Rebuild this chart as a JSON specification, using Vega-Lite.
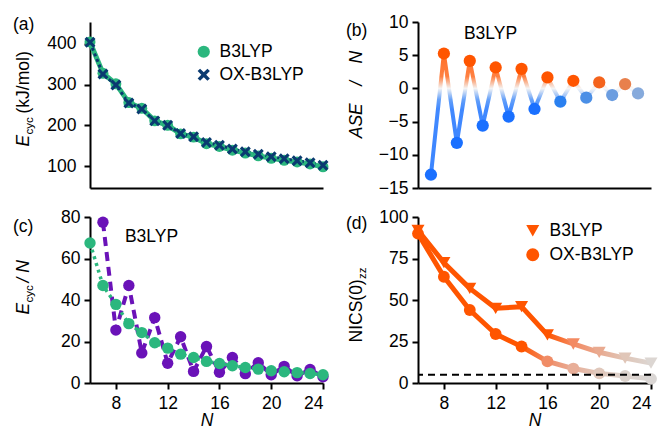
{
  "$schema": "https://vega.github.io/schema/vega-lite/v6.json",
  "padding": {"left": 13, "top": 13, "right": 0, "bottom": 0},
  "columns": 2,
  "spacing": {"row": 29, "column": 95},
  "bounds": "flush",
  "resolve": {"scale": {"shape": "independent", "color": "independent"}, "legend": {"shape": "independent", "color": "independent"}},
  "config": {
    "view": {"stroke": null},
    "font": "Liberation Sans",
    "axis": {"domainColor": "black", "domainWidth": 2, "tickColor": "black", "tickWidth": 2, "tickSize": 6, "labelColor": "black", "labelFontSize": 17.5, "labelFont": "Liberation Sans", "titleFont": "Liberation Sans", "titleFontSize": 17.5, "titleFontWeight": "normal", "titleColor": "black", "grid": false, "labelPadding": 4, "labelOverlap": false},
    "title": {"anchor": "start", "frame": "group", "baseline": "middle", "offset": 0, "fontSize": 17.5, "fontWeight": "normal", "font": "Liberation Sans", "color": "black"},
    "legend": {"labelFont": "Liberation Sans", "labelFontSize": 17.5, "labelColor": "black"}
  },
  "datasets": {
    "ecyc": [
      {"N": 6, "method": "B3LYP", "E": 405}, {"N": 7, "method": "B3LYP", "E": 328}, {"N": 8, "method": "B3LYP", "E": 302}, {"N": 9, "method": "B3LYP", "E": 256}, {"N": 10, "method": "B3LYP", "E": 242}, {"N": 11, "method": "B3LYP", "E": 211}, {"N": 12, "method": "B3LYP", "E": 200}, {"N": 13, "method": "B3LYP", "E": 179}, {"N": 14, "method": "B3LYP", "E": 171}, {"N": 15, "method": "B3LYP", "E": 155}, {"N": 16, "method": "B3LYP", "E": 148}, {"N": 17, "method": "B3LYP", "E": 139}, {"N": 18, "method": "B3LYP", "E": 132}, {"N": 19, "method": "B3LYP", "E": 125}, {"N": 20, "method": "B3LYP", "E": 119}, {"N": 21, "method": "B3LYP", "E": 114}, {"N": 22, "method": "B3LYP", "E": 110}, {"N": 23, "method": "B3LYP", "E": 105}, {"N": 24, "method": "B3LYP", "E": 98},
      {"N": 6, "method": "OX-B3LYP", "E": 404}, {"N": 7, "method": "OX-B3LYP", "E": 326}, {"N": 8, "method": "OX-B3LYP", "E": 299}, {"N": 9, "method": "OX-B3LYP", "E": 255}, {"N": 10, "method": "OX-B3LYP", "E": 240}, {"N": 11, "method": "OX-B3LYP", "E": 211}, {"N": 12, "method": "OX-B3LYP", "E": 200}, {"N": 13, "method": "OX-B3LYP", "E": 180}, {"N": 14, "method": "OX-B3LYP", "E": 172}, {"N": 15, "method": "OX-B3LYP", "E": 158}, {"N": 16, "method": "OX-B3LYP", "E": 151}, {"N": 17, "method": "OX-B3LYP", "E": 142}, {"N": 18, "method": "OX-B3LYP", "E": 135}, {"N": 19, "method": "OX-B3LYP", "E": 129}, {"N": 20, "method": "OX-B3LYP", "E": 123}, {"N": 21, "method": "OX-B3LYP", "E": 118}, {"N": 22, "method": "OX-B3LYP", "E": 113}, {"N": 23, "method": "OX-B3LYP", "E": 108}, {"N": 24, "method": "OX-B3LYP", "E": 102}
    ],
    "ase": [
      {"N": 7, "ASE": -13.0}, {"N": 8, "ASE": 5.25}, {"N": 9, "ASE": -8.2}, {"N": 10, "ASE": 4.15}, {"N": 11, "ASE": -5.6}, {"N": 12, "ASE": 3.15}, {"N": 13, "ASE": -4.25}, {"N": 14, "ASE": 2.95}, {"N": 15, "ASE": -3.1}, {"N": 16, "ASE": 1.65}, {"N": 17, "ASE": -2.0}, {"N": 18, "ASE": 1.15}, {"N": 19, "ASE": -1.4}, {"N": 20, "ASE": 0.9}, {"N": 21, "ASE": -1.0}, {"N": 22, "ASE": 0.65}, {"N": 23, "ASE": -0.75}
    ],
    "ecycN": [
      {"N": 7, "series": "alt", "v": 77.5}, {"N": 8, "series": "alt", "v": 25.5}, {"N": 9, "series": "alt", "v": 47}, {"N": 10, "series": "alt", "v": 14.5}, {"N": 11, "series": "alt", "v": 31.5}, {"N": 12, "series": "alt", "v": 9.5}, {"N": 13, "series": "alt", "v": 22.3}, {"N": 14, "series": "alt", "v": 5.6}, {"N": 15, "series": "alt", "v": 17.6}, {"N": 16, "series": "alt", "v": 5.2}, {"N": 17, "series": "alt", "v": 12.3}, {"N": 18, "series": "alt", "v": 4.5}, {"N": 19, "series": "alt", "v": 9.8}, {"N": 20, "series": "alt", "v": 4.0}, {"N": 21, "series": "alt", "v": 8.0}, {"N": 22, "series": "alt", "v": 3.5}, {"N": 23, "series": "alt", "v": 6.5}, {"N": 24, "series": "alt", "v": 3.0},
      {"N": 6, "series": "B3LYP", "v": 67.5}, {"N": 7, "series": "B3LYP", "v": 47}, {"N": 8, "series": "B3LYP", "v": 37.9}, {"N": 9, "series": "B3LYP", "v": 28.6}, {"N": 10, "series": "B3LYP", "v": 24.3}, {"N": 11, "series": "B3LYP", "v": 19.4}, {"N": 12, "series": "B3LYP", "v": 16.8}, {"N": 13, "series": "B3LYP", "v": 13.9}, {"N": 14, "series": "B3LYP", "v": 12.3}, {"N": 15, "series": "B3LYP", "v": 10.4}, {"N": 16, "series": "B3LYP", "v": 9.4}, {"N": 17, "series": "B3LYP", "v": 8.3}, {"N": 18, "series": "B3LYP", "v": 7.5}, {"N": 19, "series": "B3LYP", "v": 6.7}, {"N": 20, "series": "B3LYP", "v": 5.9}, {"N": 21, "series": "B3LYP", "v": 5.4}, {"N": 22, "series": "B3LYP", "v": 5.0}, {"N": 23, "series": "B3LYP", "v": 4.6}, {"N": 24, "series": "B3LYP", "v": 4.0}
    ],
    "nics": [
      {"N": 6, "method": "B3LYP", "NICS": 92}, {"N": 8, "method": "B3LYP", "NICS": 72.5}, {"N": 10, "method": "B3LYP", "NICS": 57}, {"N": 12, "method": "B3LYP", "NICS": 45}, {"N": 14, "method": "B3LYP", "NICS": 46}, {"N": 16, "method": "B3LYP", "NICS": 29}, {"N": 18, "method": "B3LYP", "NICS": 23.5}, {"N": 20, "method": "B3LYP", "NICS": 18.5}, {"N": 22, "method": "B3LYP", "NICS": 15}, {"N": 24, "method": "B3LYP", "NICS": 12},
      {"N": 6, "method": "OX-B3LYP", "NICS": 90}, {"N": 8, "method": "OX-B3LYP", "NICS": 64}, {"N": 10, "method": "OX-B3LYP", "NICS": 44}, {"N": 12, "method": "OX-B3LYP", "NICS": 29.5}, {"N": 14, "method": "OX-B3LYP", "NICS": 22}, {"N": 16, "method": "OX-B3LYP", "NICS": 13}, {"N": 18, "method": "OX-B3LYP", "NICS": 8.7}, {"N": 20, "method": "OX-B3LYP", "NICS": 5.8}, {"N": 22, "method": "OX-B3LYP", "NICS": 4.2}, {"N": 24, "method": "OX-B3LYP", "NICS": 2.5}
    ]
  },
  "concat": [
    {
      "width": 233, "height": 166,
      "title": {"text": "(a)", "dx": -77, "dy": 15},
      "data": {"name": "ecyc"},
      "layer": [
        {
          "transform": [{"filter": "datum.method === 'B3LYP'"}],
          "mark": {"type": "line", "color": "#2bb77e", "strokeWidth": 5},
          "encoding": {
            "x": {"field": "N", "type": "quantitative", "scale": {"domain": [6, 24], "nice": false, "zero": false}, "axis": {"ticks": false, "labels": false, "title": null}},
            "y": {"field": "E", "type": "quantitative", "scale": {"domain": [46, 454], "nice": false, "zero": false}, "axis": {"orient": "left", "values": [100, 200, 300, 400], "labelPadding": 8, "title": "E", "titleFontStyle": "italic", "titleAngle": -90, "titleAlign": "left", "titleBaseline": "alphabetic", "titleX": -62, "titleY": 124}}
          }
        },
        {
          "transform": [{"filter": "datum.method === 'OX-B3LYP'"}],
          "mark": {"type": "line", "color": "#0a3a70", "strokeWidth": 3, "strokeDash": [3, 3]},
          "encoding": {
            "x": {"field": "N", "type": "quantitative"},
            "y": {"field": "E", "type": "quantitative", "scale": {"domain": [46, 454], "nice": false, "zero": false}, "axis": {"orient": "left", "domain": false, "ticks": false, "labels": false, "title": "cyc", "titleFontSize": 11.5, "titleAngle": -90, "titleAlign": "left", "titleBaseline": "alphabetic", "titleX": -58, "titleY": 112}}
          }
        },
        {
          "mark": {"type": "point", "filled": true, "size": 120, "opacity": 1, "strokeWidth": 0},
          "encoding": {
            "x": {"field": "N", "type": "quantitative"},
            "y": {"field": "E", "type": "quantitative", "scale": {"domain": [46, 454], "nice": false, "zero": false}, "axis": {"orient": "left", "domain": false, "ticks": false, "labels": false, "title": "(kJ/mol)", "titleAngle": -90, "titleAlign": "left", "titleBaseline": "alphabetic", "titleX": -62, "titleY": 91}},
            "color": {"field": "method", "type": "nominal", "scale": {"domain": ["B3LYP", "OX-B3LYP"], "range": ["#2bb77e", "#0a3a70"]}, "legend": {"title": null, "orient": "none", "legendX": 105, "legendY": 21, "symbolSize": 150, "symbolStrokeWidth": 0, "rowPadding": 4, "labelOffset": 7, "padding": 0, "symbolOpacity": 1}},
            "shape": {"field": "method", "type": "nominal", "scale": {"domain": ["B3LYP", "OX-B3LYP"], "range": ["circle", "M-1,-0.6L-0.6,-1L0,-0.4L0.6,-1L1,-0.6L0.4,0L1,0.6L0.6,1L0,0.4L-0.6,1L-1,0.6L-0.4,0Z"]}, "legend": {"title": null, "orient": "none", "legendX": 105, "legendY": 21, "symbolSize": 150, "symbolStrokeWidth": 0, "rowPadding": 4, "labelOffset": 7, "padding": 0, "symbolOpacity": 1}}
          }
        }
      ],
      "resolve": {"axis": {"y": "independent"}}
    },
    {
      "width": 233, "height": 166,
      "title": {"text": "(b)", "dx": -72, "dy": 30},
      "data": {"name": "ase"},
      "layer": [
        {
          "mark": {"type": "line", "strokeWidth": 4, "opacity": 0.85, "strokeJoin": "round", "color": {"gradient": "linear", "x1": 0, "y1": 0, "x2": 0, "y2": 1, "stops": [{"offset": 0, "color": "#ff5500"}, {"offset": 0.19, "color": "#ff6a20"}, {"offset": 0.288, "color": "#f2f2f2"}, {"offset": 0.38, "color": "#4a90f8"}, {"offset": 0.46, "color": "#1f74ff"}, {"offset": 1, "color": "#1a70ff"}]}},
          "encoding": {
            "x": {"field": "N", "type": "quantitative", "scale": {"domain": [6, 24], "nice": false, "zero": false}, "axis": {"ticks": false, "labels": false, "title": null}},
            "y": {"field": "ASE", "type": "quantitative", "scale": {"domain": [-15, 10], "nice": false, "zero": false}, "axis": {"orient": "left", "values": [-15, -10, -5, 0, 5, 10], "labelOverlap": false, "title": "ASE\u2003/\u2003N", "titleFontStyle": "italic", "titleAngle": -90, "titleAlign": "center", "titleBaseline": "alphabetic", "titleX": -57, "titleY": 72}}
          }
        },
        {
          "mark": {"type": "line", "strokeWidth": 4.5, "strokeJoin": "round", "color": {"gradient": "linear", "x1": 0, "y1": 0, "x2": 1, "y2": 0, "stops": [{"offset": 0, "color": "rgba(255,255,255,0)"}, {"offset": 0.56, "color": "rgba(255,255,255,0)"}, {"offset": 1, "color": "rgba(255,255,255,0.55)"}]}},
          "encoding": {
            "x": {"field": "N", "type": "quantitative"},
            "y": {"field": "ASE", "type": "quantitative", "axis": null}
          }
        },
        {
          "transform": [{"filter": "datum.ASE > 0"}],
          "mark": {"type": "circle", "size": 150, "opacity": 1},
          "encoding": {
            "x": {"field": "N", "type": "quantitative"},
            "y": {"field": "ASE", "type": "quantitative", "axis": null},
            "color": {"field": "N", "type": "quantitative", "scale": {"domain": [18, 20, 22], "range": ["#ff5500", "#f4631c", "#e8804c"], "clamp": true, "interpolate": "rgb"}, "legend": null}
          }
        },
        {
          "transform": [{"filter": "datum.ASE < 0"}],
          "mark": {"type": "circle", "size": 150, "opacity": 1},
          "encoding": {
            "x": {"field": "N", "type": "quantitative"},
            "y": {"field": "ASE", "type": "quantitative", "axis": null},
            "color": {"field": "N", "type": "quantitative", "scale": {"domain": [15, 17, 19, 21, 23], "range": ["#1a70ff", "#2a80f0", "#4b8fe6", "#6b9de0", "#86aadc"], "clamp": true, "interpolate": "rgb"}, "legend": null}
          }
        },
        {
          "data": {"values": [{"label": "B3LYP"}]},
          "mark": {"type": "text", "fontSize": 17.5, "fontWeight": "normal", "align": "center", "baseline": "middle", "fill": "black"},
          "encoding": {"text": {"field": "label"}, "x": {"datum": 11.6}, "y": {"datum": 8.2, "axis": null}}
        }
      ],
      "resolve": {"scale": {"color": "independent"}, "axis": {"y": "independent"}}
    },
    {
      "width": 233, "height": 166,
      "title": {"text": "(c)", "dx": -77, "dy": 31},
      "data": {"name": "ecycN"},
      "layer": [
        {
          "transform": [{"filter": "datum.series === 'alt'"}],
          "mark": {"type": "line", "color": "#6a12b8", "strokeWidth": 4, "strokeDash": [9, 6]},
          "encoding": {
            "x": {"field": "N", "type": "quantitative", "scale": {"domain": [6, 24], "nice": false, "zero": false}, "axis": {"values": [8, 12, 16, 20, 24], "labelPadding": 5, "title": "N", "titleFontStyle": "italic", "titlePadding": 0}},
            "y": {"field": "v", "type": "quantitative", "scale": {"domain": [0, 80], "nice": false}, "axis": {"orient": "left", "values": [0, 20, 40, 60, 80], "title": "E", "titleFontStyle": "italic", "titleAngle": -90, "titleAlign": "left", "titleBaseline": "alphabetic", "titleX": -62, "titleY": 97}}
          }
        },
        {
          "transform": [{"filter": "datum.series === 'alt'"}],
          "mark": {"type": "circle", "color": "#6a12b8", "size": 130, "opacity": 1},
          "encoding": {
            "x": {"field": "N", "type": "quantitative"},
            "y": {"field": "v", "type": "quantitative", "scale": {"domain": [0, 80], "nice": false}, "axis": {"orient": "left", "domain": false, "ticks": false, "labels": false, "title": "cyc", "titleFontSize": 11.5, "titleAngle": -90, "titleAlign": "left", "titleBaseline": "alphabetic", "titleX": -58, "titleY": 85}}
          }
        },
        {
          "transform": [{"filter": "datum.series === 'B3LYP'"}],
          "mark": {"type": "line", "color": "#2bb77e", "strokeWidth": 3.5, "strokeDash": [3, 4]},
          "encoding": {
            "x": {"field": "N", "type": "quantitative"},
            "y": {"field": "v", "type": "quantitative", "scale": {"domain": [0, 80], "nice": false}, "axis": {"orient": "left", "domain": false, "ticks": false, "labels": false, "title": "/ N", "titleFontStyle": "italic", "titleAngle": -90, "titleAlign": "left", "titleBaseline": "alphabetic", "titleX": -62, "titleY": 65}}
          }
        },
        {
          "transform": [{"filter": "datum.series === 'B3LYP'"}],
          "mark": {"type": "circle", "color": "#2bb77e", "size": 130, "opacity": 1},
          "encoding": {
            "x": {"field": "N", "type": "quantitative"},
            "y": {"field": "v", "type": "quantitative", "axis": null}
          }
        },
        {
          "data": {"values": [{"label": "B3LYP"}]},
          "mark": {"type": "text", "fontSize": 17.5, "fontWeight": "normal", "align": "center", "baseline": "middle", "fill": "black"},
          "encoding": {"text": {"field": "label"}, "x": {"datum": 10.75}, "y": {"datum": 70.4, "axis": null}}
        }
      ],
      "resolve": {"axis": {"y": "independent"}}
    },
    {
      "width": 233, "height": 166,
      "title": {"text": "(d)", "dx": -72, "dy": 28},
      "data": {"name": "nics"},
      "layer": [
        {
          "transform": [{"filter": "datum.method === 'B3LYP'"}],
          "mark": {"type": "line", "strokeWidth": 5, "strokeJoin": "round", "color": {"gradient": "linear", "x1": 0, "y1": 0, "x2": 1, "y2": 0, "stops": [{"offset": 0, "color": "#ff5500"}, {"offset": 0.556, "color": "#ff5500"}, {"offset": 0.667, "color": "#f38a62"}, {"offset": 0.778, "color": "#e9aa90"}, {"offset": 0.889, "color": "#e0c6b8"}, {"offset": 1, "color": "#dcd6d2"}]}},
          "encoding": {
            "x": {"field": "N", "type": "quantitative", "scale": {"domain": [6, 24], "nice": false, "zero": false}, "axis": {"values": [8, 12, 16, 20, 24], "labelPadding": 5, "title": "N", "titleFontStyle": "italic", "titlePadding": 0}},
            "y": {"field": "NICS", "type": "quantitative", "scale": {"domain": [0, 100], "nice": false}, "axis": {"orient": "left", "values": [0, 25, 50, 75, 100], "title": "NICS(0)", "titleAngle": -90, "titleAlign": "left", "titleBaseline": "alphabetic", "titleX": -57, "titleY": 125}}
          }
        },
        {
          "transform": [{"filter": "datum.method === 'OX-B3LYP'"}],
          "mark": {"type": "line", "strokeWidth": 5, "strokeJoin": "round", "color": {"gradient": "linear", "x1": 0, "y1": 0, "x2": 1, "y2": 0, "stops": [{"offset": 0, "color": "#ff5500"}, {"offset": 0.444, "color": "#ff5500"}, {"offset": 0.556, "color": "#f08c66"}, {"offset": 0.667, "color": "#e8ae98"}, {"offset": 0.778, "color": "#e0c8bc"}, {"offset": 0.889, "color": "#dcd2cc"}, {"offset": 1, "color": "#dad6d4"}]}},
          "encoding": {
            "x": {"field": "N", "type": "quantitative"},
            "y": {"field": "NICS", "type": "quantitative", "scale": {"domain": [0, 100], "nice": false}, "axis": {"orient": "left", "domain": false, "ticks": false, "labels": false, "title": "zz", "titleFontSize": 11.5, "titleAngle": -90, "titleAlign": "left", "titleBaseline": "alphabetic", "titleX": -53, "titleY": 61.5}}
          }
        },
        {
          "transform": [{"filter": "datum.method === 'B3LYP'"}],
          "mark": {"type": "point", "filled": true, "size": 170, "opacity": 1, "strokeWidth": 0},
          "encoding": {
            "x": {"field": "N", "type": "quantitative"},
            "y": {"field": "NICS", "type": "quantitative", "axis": null},
            "color": {"field": "N", "type": "quantitative", "scale": {"domain": [16, 18, 20, 22, 24], "range": ["#ff5500", "#f38a62", "#e9aa90", "#e0c6b8", "#dcd6d2"], "clamp": true, "interpolate": "rgb"}, "legend": null},
            "shape": {"field": "method", "type": "nominal", "scale": {"domain": ["B3LYP", "OX-B3LYP"], "range": ["triangle-down", "circle"]}, "legend": {"title": null, "orient": "none", "legendX": 106, "legendY": 5, "symbolSize": 170, "symbolFillColor": "#ff5500", "symbolStrokeColor": "#ff5500", "symbolStrokeWidth": 0, "symbolOpacity": 1, "rowPadding": 5, "labelOffset": 8, "padding": 0}}
          }
        },
        {
          "transform": [{"filter": "datum.method === 'OX-B3LYP'"}],
          "mark": {"type": "point", "filled": true, "size": 140, "opacity": 1, "strokeWidth": 0},
          "encoding": {
            "x": {"field": "N", "type": "quantitative"},
            "y": {"field": "NICS", "type": "quantitative", "axis": null},
            "color": {"field": "N", "type": "quantitative", "scale": {"domain": [14, 16, 18, 20, 22, 24], "range": ["#ff5500", "#f08c66", "#e8ae98", "#e0c8bc", "#dcd2cc", "#dad6d4"], "clamp": true, "interpolate": "rgb"}, "legend": null},
            "shape": {"field": "method", "type": "nominal", "scale": {"domain": ["B3LYP", "OX-B3LYP"], "range": ["triangle-down", "circle"]}, "legend": {"title": null, "orient": "none", "legendX": 106, "legendY": 5, "symbolSize": 170, "symbolFillColor": "#ff5500", "symbolStrokeColor": "#ff5500", "symbolStrokeWidth": 0, "symbolOpacity": 1, "rowPadding": 5, "labelOffset": 8, "padding": 0}}
          }
        },
        {
          "data": {"values": [{"ref": 5}]},
          "mark": {"type": "rule", "color": "black", "strokeWidth": 2, "strokeDash": [7, 5]},
          "encoding": {"y": {"field": "ref", "type": "quantitative", "axis": null}}
        }
      ],
      "resolve": {"scale": {"color": "independent"}, "axis": {"y": "independent"}}
    }
  ]
}
